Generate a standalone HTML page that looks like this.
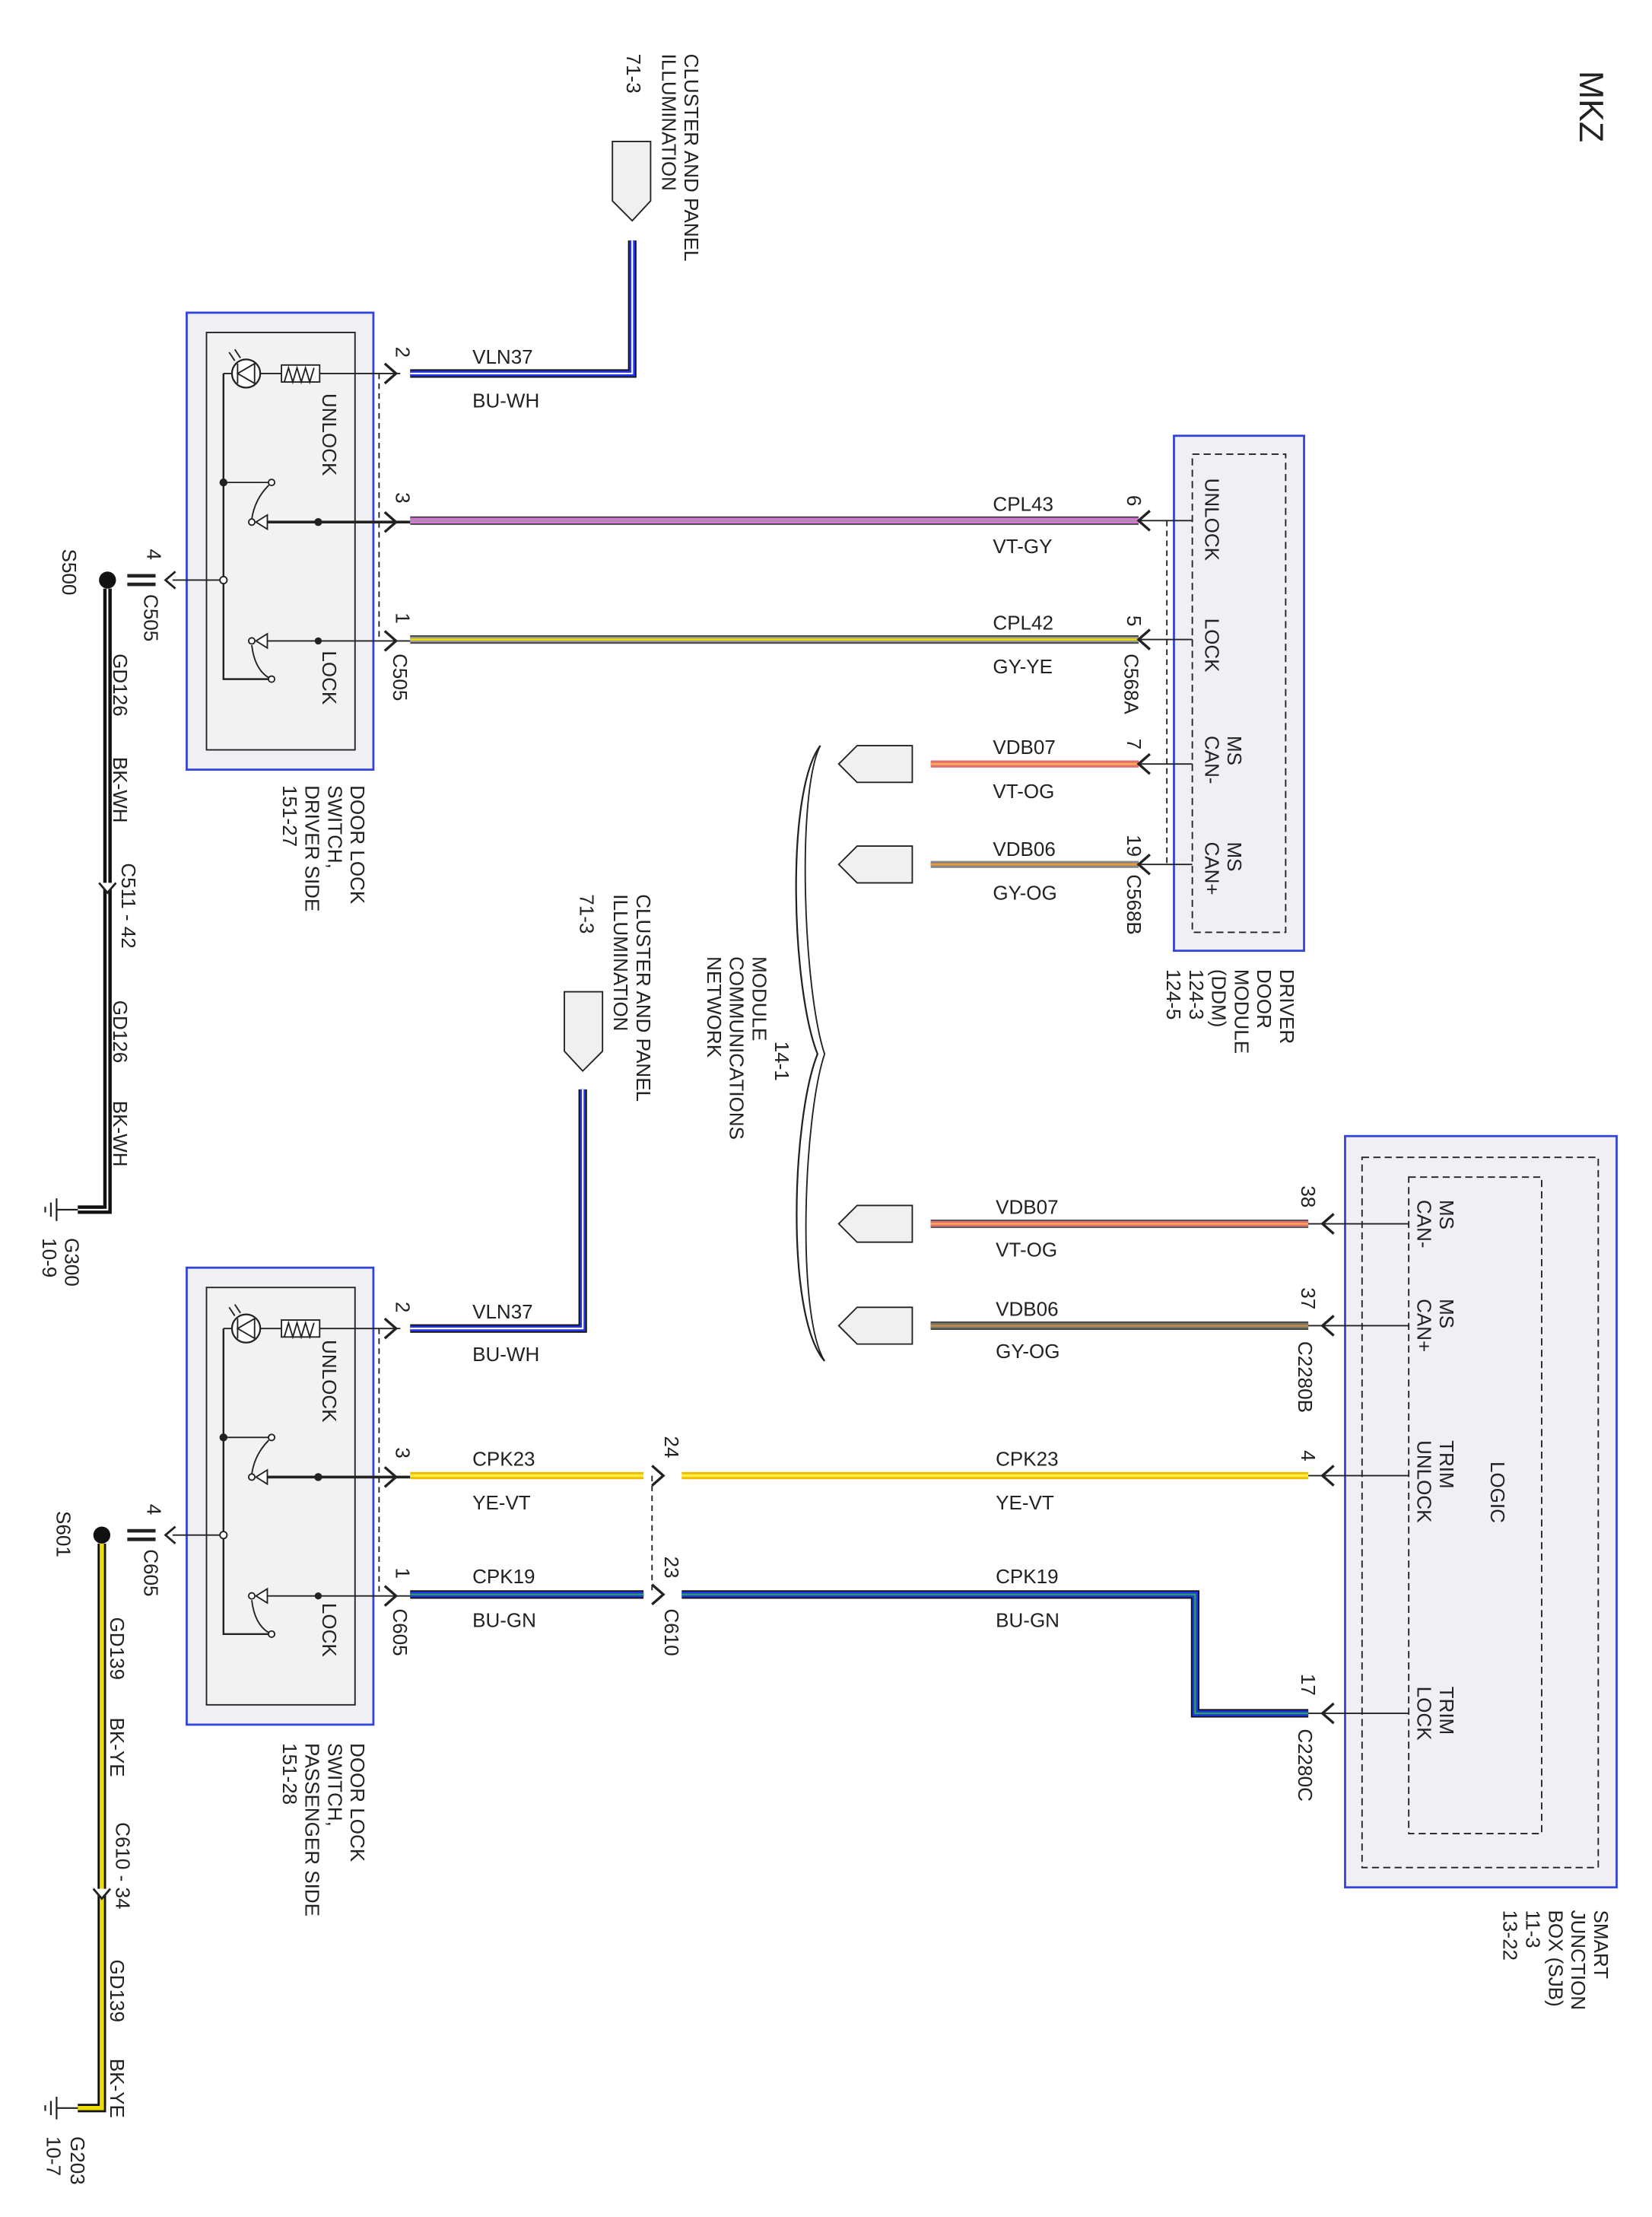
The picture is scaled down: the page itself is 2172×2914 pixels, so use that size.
<!DOCTYPE html>
<html><head><meta charset="utf-8">
<style>
html,body{margin:0;padding:0;background:#fff;}
svg{display:block;}
text{font-family:"Liberation Sans",sans-serif;font-size:14px;fill:#222;}
</style></head>
<body>
<svg width="2172" height="2914" viewBox="0 0 1168 1567" preserveAspectRatio="none" xmlns="http://www.w3.org/2000/svg">
<defs>
<g id="sw">
  <rect x="132" y="0" width="132" height="323" fill="#f0f0f4" stroke="#3344dd" stroke-width="1.5"/>
  <rect x="146" y="14" width="105" height="295" fill="#f2f2f2" stroke="#222" stroke-width="1"/>
  <circle cx="174" cy="43" r="10" fill="#fff" stroke="#222" stroke-width="1.2"/>
  <path d="M168 43 L180 36 V50 Z M168 36 V50" fill="none" stroke="#222"/>
  <path d="M162 28 l4 6 M166 26 l4 6" stroke="#222"/>
  <rect x="199" y="37" width="27" height="12" fill="#fff" stroke="#222"/>
  <path d="M201 49 l3 -10 l3 10 l3 -10 l3 10 l3 -10 l3 10 l3 -10" fill="none" stroke="#222"/>
  <path d="M158 43 H164 M184 43 H199 M226 43 H283" stroke="#222" fill="none"/>
  <path d="M158 43 V259 H192" stroke="#222" fill="none" stroke-width="1.3"/>
  <!-- unlock switch -->
  <path d="M158 120 H192" stroke="#222"/>
  <circle cx="158" cy="120" r="2.8" fill="#222"/>
  <circle cx="192" cy="120" r="2.2" fill="#fff" stroke="#222"/>
  <path d="M190 122 Q180 132 178 146" fill="none" stroke="#222"/>
  <circle cx="178" cy="148" r="2.2" fill="#fff" stroke="#222"/>
  <path d="M181 148 l8 -5 v10 z" fill="#fff" stroke="#222"/>
  <path d="M189 148 H290" stroke="#222" stroke-width="2"/>
  <circle cx="225" cy="148" r="2.8" fill="#222"/>
  <!-- lock switch -->
  <circle cx="178" cy="232" r="2.2" fill="#fff" stroke="#222"/>
  <path d="M181 232 l8 -5 v10 z" fill="#fff" stroke="#222"/>
  <path d="M189 232 H290" stroke="#222"/>
  <circle cx="225" cy="232" r="2.5" fill="#222"/>
  <path d="M178 235 Q180 252 190 258" fill="none" stroke="#222"/>
  <circle cx="192" cy="259" r="2.2" fill="#fff" stroke="#222"/>
  <path d="M158 189 H122" stroke="#222"/>
  <circle cx="158" cy="189" r="2.5" fill="#fff" stroke="#222"/>
  <path d="M268 43 V231" stroke="#222" stroke-dasharray="4,3"/>
  <path d="M272 36 l8 7 l-8 7 M272 141 l8 7 l-8 7 M272 225 l8 7 l-8 7" stroke="#222" fill="none" stroke-width="1.8"/>
  <path d="M124 183 l-7 6 l7 6" stroke="#222" fill="none" stroke-width="1.5"/>
  <path d="M90 186 H110 M90 192 H110" stroke="#222" stroke-width="2.5"/>
</g>
</defs>

<text transform="translate(1117,50) rotate(90)" style="font-size:24px">MKZ</text>

<!-- ===== Driver switch ===== -->
<use href="#sw" y="221"/>
<text transform="translate(228,278) rotate(90)">UNLOCK</text>
<text transform="translate(228,460) rotate(90)">LOCK</text>
<text transform="translate(280,245) rotate(90)">2</text>
<text transform="translate(280,348) rotate(90)">3</text>
<text transform="translate(280,433) rotate(90)">1</text>
<text transform="translate(278,462) rotate(90)">C505</text>
<text transform="translate(104,388) rotate(90)">4</text>
<text transform="translate(102,420) rotate(90)">C505</text>
<text transform="translate(248,555) rotate(90)">DOOR LOCK</text>
<text transform="translate(232,555) rotate(90)">SWITCH,</text>
<text transform="translate(216,555) rotate(90)">DRIVER SIDE</text>
<text transform="translate(200,555) rotate(90)">151-27</text>

<!-- cluster 1 -->
<path d="M433 100 H460 V142 L447 156 L433 142 Z" fill="#f0f0f0" stroke="#222"/>
<text transform="translate(484,38) rotate(90)">CLUSTER AND PANEL</text>
<text transform="translate(468,38) rotate(90)">ILLUMINATION</text>
<text transform="translate(443,38) rotate(90)">71-3</text>
<path d="M290 264 H447 V170" fill="none" stroke="#111" stroke-width="6"/>
<path d="M290 264 H447 V170" fill="none" stroke="#2233ee" stroke-width="4"/>
<path d="M290 264 H447 V170" fill="none" stroke="#fff" stroke-width="1.2"/>
<text x="334" y="257">VLN37</text><text x="334" y="288">BU-WH</text>

<!-- CPL43 -->
<path d="M290 368 H805" stroke="#444" stroke-width="6"/>
<path d="M290 368 H805" stroke="#e070e0" stroke-width="4"/>
<path d="M290 368 H805" stroke="#999" stroke-width="1.2"/>
<text x="702" y="361">CPL43</text><text x="702" y="391">VT-GY</text>
<!-- CPL42 -->
<path d="M290 452 H805" stroke="#444" stroke-width="6"/>
<path d="M290 452 H805" stroke="#999" stroke-width="4"/>
<path d="M290 452 H805" stroke="#eedd00" stroke-width="1.5"/>
<text x="702" y="445">CPL42</text><text x="702" y="476">GY-YE</text>
<!-- VDB07 -->
<path d="M658 540 H805" stroke="#e07070" stroke-width="5"/>
<path d="M658 540 H805" stroke="#ffaa55" stroke-width="1.5"/>
<text x="702" y="533">VDB07</text><text x="702" y="564">VT-OG</text>
<!-- VDB06 -->
<path d="M658 611 H805" stroke="#888" stroke-width="5"/>
<path d="M658 611 H805" stroke="#ee9933" stroke-width="1.5"/>
<text x="702" y="605">VDB06</text><text x="702" y="636">GY-OG</text>
<path d="M645 527 H606 L593 540 L606 553 H645 Z" fill="#f0f0f0" stroke="#222"/>
<path d="M645 598 H606 L593 611 L606 624 H645 Z" fill="#f0f0f0" stroke="#222"/>

<!-- DDM -->
<rect x="830" y="308" width="92" height="364" fill="#f0f0f4" stroke="#3344dd" stroke-width="1.5"/>
<rect x="843" y="321" width="66" height="338" fill="none" stroke="#222" stroke-dasharray="5,3"/>
<path d="M813 361 l-8 7 l8 7 M813 445 l-8 7 l8 7 M813 533 l-8 7 l8 7 M813 604 l-8 7 l8 7" stroke="#222" fill="none" stroke-width="1.8"/>
<path d="M805 368 H843 M805 452 H843 M805 540 H843 M805 611 H843" stroke="#222"/>
<path d="M825 368 V611" stroke="#222" stroke-dasharray="4,3"/>
<text transform="translate(797,350) rotate(90)">6</text>
<text transform="translate(797,435) rotate(90)">5</text>
<text transform="translate(795,462) rotate(90)">C568A</text>
<text transform="translate(797,522) rotate(90)">7</text>
<text transform="translate(797,590) rotate(90)">19</text>
<text transform="translate(797,618) rotate(90)">C568B</text>
<text transform="translate(852,338) rotate(90)">UNLOCK</text>
<text transform="translate(852,437) rotate(90)">LOCK</text>
<text transform="translate(868,520) rotate(90)">MS</text>
<text transform="translate(852,520) rotate(90)">CAN-</text>
<text transform="translate(868,595) rotate(90)">MS</text>
<text transform="translate(852,595) rotate(90)">CAN+</text>
<text transform="translate(905,685) rotate(90)">DRIVER</text>
<text transform="translate(889,685) rotate(90)">DOOR</text>
<text transform="translate(873,685) rotate(90)">MODULE</text>
<text transform="translate(857,685) rotate(90)">(DDM)</text>
<text transform="translate(841,685) rotate(90)">124-3</text>
<text transform="translate(825,685) rotate(90)">124-5</text>

<!-- brace -->
<path d="M580 527 C555 560 560 700 578 745 C560 790 555 930 583 962" fill="none" stroke="#222" stroke-width="1.2"/>
<path d="M580 527 C563 560 568 700 583 745 C568 790 563 930 583 962" fill="none" stroke="#222" stroke-width="1"/>
<text transform="translate(548,736) rotate(90)">14-1</text>
<text transform="translate(532,676) rotate(90)">MODULE</text>
<text transform="translate(516,676) rotate(90)">COMMUNICATIONS</text>
<text transform="translate(500,676) rotate(90)">NETWORK</text>

<!-- driver ground -->
<circle cx="76" cy="410" r="6" fill="#111"/>
<text transform="translate(44,388) rotate(90)">S500</text>
<path d="M76 416 V855 H55" fill="none" stroke="#111" stroke-width="6"/>
<path d="M76 416 V855 H55" fill="none" stroke="#fff" stroke-width="1.2"/>
<path d="M70 624 l6 7 l6 -7" stroke="#222" fill="#fff" stroke-width="1.5"/>
<path d="M40 847 V863 M36 850 V860 M32 853 V857 M40 855 H55" stroke="#222" stroke-width="1.2"/>
<text transform="translate(80,462) rotate(90)">GD126</text>
<text transform="translate(80,535) rotate(90)">BK-WH</text>
<text transform="translate(86,610) rotate(90)">C511 - 42</text>
<text transform="translate(80,707) rotate(90)">GD126</text>
<text transform="translate(80,778) rotate(90)">BK-WH</text>
<text transform="translate(46,875) rotate(90)">G300</text>
<text transform="translate(30,875) rotate(90)">10-9</text>

<!-- ===== Passenger switch ===== -->
<use href="#sw" y="896"/>
<text transform="translate(228,947) rotate(90)">UNLOCK</text>
<text transform="translate(228,1133) rotate(90)">LOCK</text>
<text transform="translate(280,920) rotate(90)">2</text>
<text transform="translate(280,1023) rotate(90)">3</text>
<text transform="translate(280,1108) rotate(90)">1</text>
<text transform="translate(278,1137) rotate(90)">C605</text>
<text transform="translate(104,1063) rotate(90)">4</text>
<text transform="translate(102,1095) rotate(90)">C605</text>
<text transform="translate(248,1232) rotate(90)">DOOR LOCK</text>
<text transform="translate(232,1232) rotate(90)">SWITCH,</text>
<text transform="translate(216,1232) rotate(90)">PASSENGER SIDE</text>
<text transform="translate(200,1232) rotate(90)">151-28</text>

<!-- cluster 2 -->
<path d="M399 701 H426 V743 L412 757 L399 743 Z" fill="#f0f0f0" stroke="#222"/>
<text transform="translate(450,632) rotate(90)">CLUSTER AND PANEL</text>
<text transform="translate(434,632) rotate(90)">ILLUMINATION</text>
<text transform="translate(410,632) rotate(90)">71-3</text>
<path d="M290 939 H412 V770" fill="none" stroke="#111" stroke-width="6"/>
<path d="M290 939 H412 V770" fill="none" stroke="#2233ee" stroke-width="4"/>
<path d="M290 939 H412 V770" fill="none" stroke="#fff" stroke-width="1.2"/>
<text x="334" y="932">VLN37</text><text x="334" y="962">BU-WH</text>

<!-- CPK23 -->
<path d="M290 1043 H455 M482 1043 H925" stroke="#eebb00" stroke-width="5"/>
<path d="M290 1043 H455 M482 1043 H925" stroke="#ffee44" stroke-width="2"/>
<text x="334" y="1036">CPK23</text><text x="334" y="1067">YE-VT</text>
<text x="704" y="1036">CPK23</text><text x="704" y="1067">YE-VT</text>
<!-- CPK19 -->
<path d="M290 1127 H455 M482 1127 H845 V1211 H925" fill="none" stroke="#111" stroke-width="6"/>
<path d="M290 1127 H455 M482 1127 H845 V1211 H925" fill="none" stroke="#2233ee" stroke-width="4"/>
<path d="M290 1127 H455 M482 1127 H845 V1211 H925" fill="none" stroke="#22aa44" stroke-width="1.2"/>
<text x="334" y="1119">CPK19</text><text x="334" y="1150">BU-GN</text>
<text x="704" y="1119">CPK19</text><text x="704" y="1150">BU-GN</text>
<path d="M461 1036 l8 7 l-8 7 M461 1120 l8 7 l-8 7" stroke="#222" fill="none" stroke-width="1.8"/>
<path d="M461 1043 V1127" stroke="#222" stroke-dasharray="4,3"/>
<text transform="translate(470,1015) rotate(90)">24</text>
<text transform="translate(470,1100) rotate(90)">23</text>
<text transform="translate(470,1137) rotate(90)">C610</text>

<!-- VDB lower -->
<path d="M658 865 H925" stroke="#555" stroke-width="6"/>
<path d="M658 865 H925" stroke="#e07070" stroke-width="4"/>
<path d="M658 865 H925" stroke="#ffaa55" stroke-width="1.2"/>
<text x="704" y="858">VDB07</text><text x="704" y="888">VT-OG</text>
<path d="M658 937 H925" stroke="#444" stroke-width="6"/>
<path d="M658 937 H925" stroke="#777766" stroke-width="4"/>
<path d="M658 937 H925" stroke="#cc8844" stroke-width="1.2"/>
<text x="704" y="930">VDB06</text><text x="704" y="960">GY-OG</text>
<path d="M645 852 H606 L593 865 L606 878 H645 Z" fill="#f0f0f0" stroke="#222"/>
<path d="M645 924 H606 L593 937 L606 950 H645 Z" fill="#f0f0f0" stroke="#222"/>

<!-- SJB -->
<rect x="951" y="803" width="192" height="531" fill="#f0f0f4" stroke="#3344dd" stroke-width="1.5"/>
<rect x="963" y="818" width="167" height="502" fill="none" stroke="#222" stroke-dasharray="5,3"/>
<rect x="996" y="832" width="94" height="464" fill="none" stroke="#222" stroke-dasharray="5,3"/>
<path d="M943 858 l-8 7 l8 7 M943 930 l-8 7 l8 7 M943 1036 l-8 7 l8 7 M943 1204 l-8 7 l8 7" stroke="#222" fill="none" stroke-width="1.8"/>
<path d="M925 865 H996 M925 937 H996 M925 1043 H996 M925 1211 H996" stroke="#222"/>
<text transform="translate(920,838) rotate(90)">38</text>
<text transform="translate(920,910) rotate(90)">37</text>
<text transform="translate(918,948) rotate(90)">C2280B</text>
<text transform="translate(920,1025) rotate(90)">4</text>
<text transform="translate(920,1183) rotate(90)">17</text>
<text transform="translate(918,1222) rotate(90)">C2280C</text>
<text transform="translate(1018,848) rotate(90)">MS</text>
<text transform="translate(1002,848) rotate(90)">CAN-</text>
<text transform="translate(1018,918) rotate(90)">MS</text>
<text transform="translate(1002,918) rotate(90)">CAN+</text>
<text transform="translate(1018,1018) rotate(90)">TRIM</text>
<text transform="translate(1002,1018) rotate(90)">UNLOCK</text>
<text transform="translate(1018,1192) rotate(90)">TRIM</text>
<text transform="translate(1002,1192) rotate(90)">LOCK</text>
<text transform="translate(1054,1033) rotate(90)">LOGIC</text>
<text transform="translate(1127,1350) rotate(90)">SMART</text>
<text transform="translate(1111,1350) rotate(90)">JUNCTION</text>
<text transform="translate(1095,1350) rotate(90)">BOX (SJB)</text>
<text transform="translate(1079,1350) rotate(90)">11-3</text>
<text transform="translate(1063,1350) rotate(90)">13-22</text>

<!-- passenger ground -->
<circle cx="72" cy="1085" r="6" fill="#111"/>
<text transform="translate(40,1068) rotate(90)">S601</text>
<path d="M72 1091 V1490 H55" fill="none" stroke="#111" stroke-width="6"/>
<path d="M72 1091 V1490 H55" fill="none" stroke="#eedd00" stroke-width="3"/>
<path d="M66 1335 l6 7 l6 -7" stroke="#222" fill="#fff" stroke-width="1.5"/>
<path d="M40 1482 V1498 M36 1485 V1495 M32 1488 V1492 M40 1490 H55" stroke="#222" stroke-width="1.2"/>
<text transform="translate(78,1143) rotate(90)">GD139</text>
<text transform="translate(78,1214) rotate(90)">BK-YE</text>
<text transform="translate(82,1288) rotate(90)">C610 - 34</text>
<text transform="translate(78,1385) rotate(90)">GD139</text>
<text transform="translate(78,1455) rotate(90)">BK-YE</text>
<text transform="translate(50,1510) rotate(90)">G203</text>
<text transform="translate(33,1510) rotate(90)">10-7</text>
</svg>
</body></html>
